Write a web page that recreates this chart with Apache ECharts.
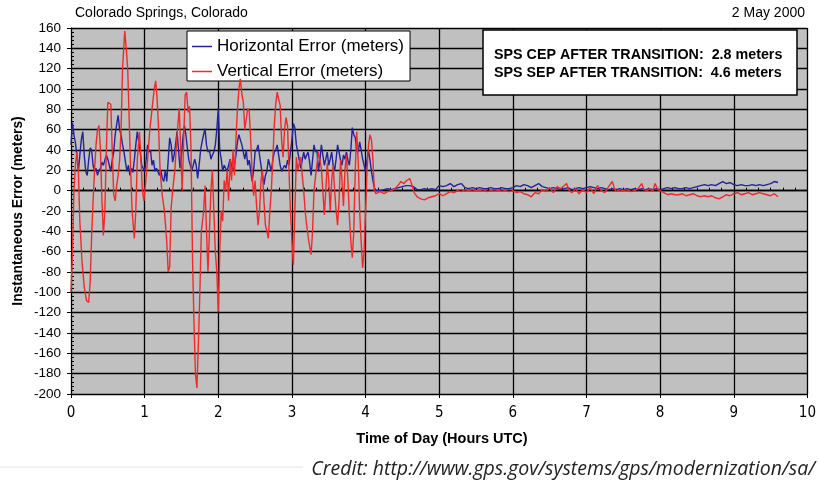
<!DOCTYPE html>
<html>
<head>
<meta charset="utf-8">
<script src="https://cdn.jsdelivr.net/npm/echarts@6/dist/echarts.min.js"></script>
<style>
html,body{margin:0;padding:0;background:#fff;}
#chart{width:819px;height:480px;}
</style>
</head>
<body>
<div id="chart"></div>
<script>
// ---- Data ----
var chartTitle = "Colorado Springs, Colorado";
var chartDate = "2 May 2000";
var seriesNames = ["Horizontal Error (meters)", "Vertical Error (meters)"];
var noteLines = ["SPS CEP AFTER TRANSITION:  2.8 meters", "SPS SEP AFTER TRANSITION:  4.6 meters"];
var xTitle = "Time of Day (Hours UTC)";
var yTitle = "Instantaneous Error (meters)";
var credit = "Credit: http://www.gps.gov/systems/gps/modernization/sa/";
var xTicks = [0,1,2,3,4,5,6,7,8,9,10];
var yTicks = [-200,-180,-160,-140,-120,-100,-80,-60,-40,-20,0,20,40,60,80,100,120,140,160];

var timeH = [0.00,0.02,0.04,0.06,0.08,0.10,0.12,0.14,0.16,0.18,0.20,0.22,0.24,0.26,0.28,0.30,0.32,0.34,0.36,0.38,0.40,0.42,0.44,0.46,0.48,0.50,0.52,0.54,0.56,0.58,0.60,0.62,0.64,0.66,0.68,0.70,0.72,0.74,0.76,0.78,0.80,0.82,0.84,0.86,0.88,0.90,0.92,0.94,0.96,0.98,1.00,1.02,1.04,1.06,1.08,1.10,1.12,1.14,1.16,1.18,1.20,1.22,1.24,1.26,1.28,1.30,1.32,1.34,1.36,1.38,1.40,1.42,1.44,1.46,1.48,1.50,1.52,1.54,1.56,1.58,1.60,1.62,1.64,1.66,1.68,1.70,1.72,1.74,1.76,1.78,1.80,1.82,1.84,1.86,1.88,1.90,1.92,1.94,1.96,1.98,2.00,2.02,2.04,2.06,2.08,2.10,2.12,2.14,2.16,2.18,2.20,2.22,2.24,2.26,2.28,2.30,2.32,2.34,2.36,2.38,2.40,2.42,2.44,2.46,2.48,2.50,2.52,2.54,2.56,2.58,2.60,2.62,2.64,2.66,2.68,2.70,2.72,2.74,2.76,2.78,2.80,2.82,2.84,2.86,2.88,2.90,2.92,2.94,2.96,2.98,3.00,3.02,3.04,3.06,3.08,3.10,3.12,3.14,3.16,3.18,3.20,3.22,3.24,3.26,3.28,3.30,3.32,3.34,3.36,3.38,3.40,3.42,3.44,3.46,3.48,3.50,3.52,3.54,3.56,3.58,3.60,3.62,3.64,3.66,3.68,3.70,3.72,3.74,3.76,3.78,3.80,3.82,3.84,3.86,3.88,3.90,3.92,3.94,3.96,3.98,4.00,4.02,4.04,4.06,4.08,4.10,4.12,4.14,
4.16,4.20,4.25,4.30,4.35,4.40,4.45,4.50,4.55,4.60,4.65,4.70,4.75,4.80,4.85,4.90,4.95,5.00,5.05,5.10,5.15,5.20,5.25,5.30,5.35,5.40,5.45,5.50,5.55,5.60,5.65,5.70,5.75,5.80,5.85,5.90,5.95,6.00,6.05,6.10,6.15,6.20,6.25,6.30,6.35,6.40,6.45,6.50,6.55,6.60,6.65,6.70,6.75,6.80,6.85,6.90,6.95,7.00,7.05,7.10,7.15,7.20,7.25,7.30,7.35,7.40,7.45,7.50,7.55,7.60,7.65,7.70,7.75,7.80,7.85,7.90,7.95,8.00,8.05,8.10,8.15,8.20,8.25,8.30,8.35,8.40,8.45,8.50,8.55,8.60,8.65,8.70,8.75,8.80,8.85,8.90,8.95,9.00,9.05,9.10,9.15,9.20,9.25,9.30,9.35,9.40,9.45,9.50,9.55,9.60];
var horizontalError = [45,67,55,47,34,19,35,50,58,35,19,15,30,42,40,25,19,22,15,20,22,28,25,30,35,31,25,19,30,38,55,65,74,60,55,45,38,28,19,25,15,22,18,30,45,58,48,38,25,22,19,30,45,38,40,25,30,19,22,19,15,20,12,9,20,9,30,52,45,28,35,45,58,40,22,35,52,64,55,42,30,25,20,25,31,25,12,25,40,48,55,61,45,38,40,31,35,38,45,60,81,40,31,19,25,25,19,25,31,25,19,25,35,48,55,50,45,38,31,40,25,30,20,9,20,38,40,45,35,25,15,6,15,19,31,25,19,30,38,40,45,35,25,19,22,25,22,30,25,38,50,66,62,45,38,30,22,30,38,31,35,38,28,15,30,45,38,40,19,30,45,35,25,31,38,25,31,38,25,20,31,45,38,30,25,35,31,38,30,25,40,62,55,52,40,38,48,40,31,25,19,30,40,30,19,10,3,0,
1,0,1,2,1,2,3,4,5,5,4,1,1,2,1,2,1,5,4,5,7,4,6,7,3,2,3,2,3,2,2,3,2,2,3,2,2,3,5,4,6,5,3,5,7,4,3,2,3,2,1,2,3,1,2,3,2,3,4,3,2,3,2,1,2,1,2,1,2,1,2,1,2,1,2,1,2,1,2,3,2,3,2,2,3,2,3,4,5,6,5,6,5,7,9,7,8,6,5,6,5,5,6,5,6,5,6,7,9,8];

var timeV = [0.00,0.02,0.04,0.06,0.08,0.10,0.12,0.15,0.18,0.21,0.24,0.26,0.28,0.30,0.32,0.34,0.36,0.38,0.40,0.42,0.44,0.46,0.48,0.50,0.52,0.54,0.56,0.58,0.60,0.62,0.64,0.66,0.68,0.70,0.72,0.73,0.75,0.77,0.79,0.81,0.83,0.86,0.88,0.90,0.93,0.95,0.97,0.99,1.01,1.04,1.07,1.10,1.13,1.15,1.17,1.19,1.21,1.24,1.27,1.30,1.32,1.34,1.36,1.38,1.41,1.44,1.47,1.49,1.51,1.53,1.55,1.57,1.59,1.61,1.63,1.65,1.67,1.69,1.71,1.73,1.75,1.77,1.80,1.82,1.84,1.86,1.88,1.90,1.92,1.94,1.96,1.98,2.00,2.02,2.04,2.06,2.08,2.10,2.12,2.14,2.16,2.18,2.20,2.22,2.24,2.26,2.28,2.30,2.32,2.34,2.36,2.38,2.40,2.42,2.44,2.46,2.48,2.50,2.52,2.54,2.56,2.58,2.60,2.62,2.64,2.66,2.68,2.70,2.72,2.74,2.76,2.78,2.80,2.82,2.84,2.86,2.88,2.90,2.92,2.94,2.96,2.98,3.00,3.02,3.04,3.06,3.08,3.10,3.12,3.14,3.16,3.18,3.20,3.23,3.26,3.28,3.30,3.33,3.36,3.38,3.40,3.42,3.44,3.46,3.48,3.50,3.52,3.54,3.56,3.58,3.60,3.62,3.64,3.66,3.68,3.70,3.72,3.74,3.76,3.78,3.80,3.82,3.84,3.86,3.88,3.90,3.92,3.94,3.96,3.98,4.00,4.02,4.04,4.06,4.08,4.10,4.12,4.14,
4.16,4.20,4.25,4.30,4.35,4.40,4.45,4.48,4.52,4.56,4.60,4.62,4.66,4.70,4.75,4.80,4.85,4.90,4.95,5.00,5.05,5.10,5.15,5.20,5.25,5.30,5.35,5.40,5.45,5.50,5.55,5.60,5.65,5.70,5.75,5.80,5.85,5.90,5.95,6.00,6.05,6.10,6.15,6.20,6.25,6.30,6.35,6.40,6.45,6.50,6.55,6.60,6.65,6.70,6.73,6.76,6.80,6.85,6.90,6.95,7.00,7.05,7.10,7.15,7.20,7.25,7.30,7.35,7.38,7.40,7.45,7.50,7.55,7.60,7.65,7.70,7.75,7.78,7.82,7.86,7.90,7.93,7.97,8.00,8.05,8.10,8.15,8.20,8.25,8.30,8.35,8.40,8.45,8.50,8.55,8.60,8.65,8.70,8.75,8.80,8.85,8.90,8.95,9.00,9.05,9.10,9.15,9.20,9.25,9.30,9.35,9.40,9.45,9.50,9.55,9.60];
var verticalError = [-100,-60,0,25,38,20,-30,-70,-95,-108,-110,-90,-45,-10,20,45,60,64,40,-10,-44,-20,40,87,88,85,40,-4,-10,5,15,30,60,120,145,157,140,120,70,20,-20,-47,-20,30,58,30,0,-10,5,30,60,80,100,108,90,60,20,-5,-21,-50,-80,-75,-17,0,20,55,81,40,0,50,94,97,77,83,40,-66,-130,-180,-194,-150,-100,-40,-21,5,-40,-80,-40,0,20,-20,-60,-80,-119,-60,-20,-30,10,0,20,-10,30,10,40,15,50,80,100,110,95,87,60,70,81,78,50,15,-5,10,-15,-34,-20,10,20,-10,-34,-40,-47,-20,0,30,64,85,97,90,84,50,33,60,72,64,20,-21,-50,-73,-20,33,20,27,33,15,0,-20,-34,-50,-63,-40,0,20,38,30,22,0,-24,0,27,10,-20,10,25,0,-20,-34,-10,30,10,-15,20,35,10,-25,-50,-66,-40,20,58,30,-20,-50,-76,-60,-20,20,45,55,50,30,0,-3,
-2,-1,-3,-1,0,2,6,9,7,10,12,8,-2,-6,-8,-9,-7,-6,-5,-3,-5,-3,-1,-2,0,-1,1,0,1,0,0,1,-1,0,1,0,1,0,-1,0,-2,-1,-3,-4,-6,-2,-3,1,-1,3,-2,4,2,5,7,1,-2,2,-3,1,-2,3,-3,5,0,-2,4,9,2,-1,1,0,1,-1,0,2,7,1,0,2,-1,7,1,0,-2,-4,-3,-4,-4,-3,-5,-4,-3,-5,-6,-5,-6,-5,-7,-8,-6,-4,-5,-3,-2,-4,-3,-2,-4,-3,-2,-3,-4,-5,-3,-6];

// ---- Build ----
function pairs(xs, ys){ var out=[]; for(var i=0;i<xs.length;i++){ out.push([xs[i], ys[i]]); } return out; }

var FONT = "'Liberation Sans', Arial, sans-serif";
var NARROW = "'Liberation Sans Narrow', 'DejaVu Sans Condensed', 'Liberation Sans', sans-serif";
var chart = echarts.init(document.getElementById('chart'), null, {renderer:'canvas'});

var option = {
  animation: false,
  backgroundColor: '#ffffff',
  grid: { left: 71, right: 7, top: 28, bottom: 86, show: true, backgroundColor: '#c0c0c0', borderWidth: 0 },
  xAxis: [
    { type: 'value', min: xTicks[0], max: xTicks[xTicks.length-1], interval: 1,
      axisLine: { onZero: false, lineStyle: { color: '#000', width: 1 } },
      axisTick: { show: true, length: 4, lineStyle: { color: '#000' } },
      axisLabel: { color: '#000', fontFamily: NARROW, fontSize: 15, margin: 12 },
      splitLine: { show: true, lineStyle: { color: '#000', width: 1.3 } } },
    { type: 'value', min: xTicks[0], max: xTicks[xTicks.length-1], interval: 1, position: 'bottom',
      axisLine: { show: true, onZero: true, lineStyle: { color: '#000', width: 1.3 } },
      axisTick: { show: true, length: 3, inside: true, lineStyle: { color: '#000' } },
      minorTick: { show: true, splitNumber: 6, length: 3, lineStyle: { color: '#000' } },
      axisLabel: { show: false }, splitLine: { show: false } }
  ],
  yAxis: [
    { type: 'value', min: yTicks[0], max: yTicks[yTicks.length-1], interval: 20,
      axisLine: { show: true, onZero: false, lineStyle: { color: '#000' } },
      axisTick: { show: true, length: 4, lineStyle: { color: '#000' } },
      axisLabel: { color: '#000', fontFamily: FONT, fontSize: 13.5, margin: 10 },
      splitLine: { show: true, lineStyle: { color: '#000', width: 1.3 } } },
    { type: 'value', min: yTicks[0], max: yTicks[yTicks.length-1], interval: 20, position: 'left',
      axisLine: { show: false }, axisTick: { show: false, inside: true },
      minorTick: { show: true, splitNumber: 5, length: 3, lineStyle: { color: '#000' } },
      axisLabel: { show: false }, splitLine: { show: false } }
  ],
  legend: {
    left: 187, top: 31, orient: 'vertical', padding: [7, 6, 1, 5], itemGap: 8,
    itemWidth: 20, itemHeight: 12, backgroundColor: '#ffffff', borderColor: '#000', borderWidth: 1,
    textStyle: { fontFamily: FONT, fontSize: 17, color: '#000' },
    data: [{ name: seriesNames[0], icon: 'path://M0,5 L20,5 L20,6.5 L0,6.5 Z' }, { name: seriesNames[1], icon: 'path://M0,5 L20,5 L20,6.5 L0,6.5 Z' }]
  },
  series: [
    { name: seriesNames[0], type: 'line', xAxisIndex: 0, yAxisIndex: 0, data: pairs(timeH, horizontalError),
      symbol: 'none', lineStyle: { color: '#22229a', width: 1.4 }, itemStyle: { color: '#22229a' }, z: 3 },
    { name: seriesNames[1], type: 'line', xAxisIndex: 0, yAxisIndex: 0, data: pairs(timeV, verticalError),
      symbol: 'none', lineStyle: { color: '#f02a2a', width: 1.4 }, itemStyle: { color: '#f02a2a' }, z: 4 }
  ],
  graphic: [
    { type: 'text', x: 75, y: 13, style: { text: chartTitle, font: '14px ' + FONT, fill: '#000', textVerticalAlign: 'middle' } },
    { type: 'text', x: 805, y: 13, style: { text: chartDate, font: '14px ' + FONT, fill: '#000', textAlign: 'right', textVerticalAlign: 'middle' } },
    { type: 'rect', shape: { x: 483, y: 30, width: 314, height: 65 }, style: { fill: '#fff', stroke: '#000', lineWidth: 1.5 }, z: 100 },
    { type: 'text', x: 494, y: 55, style: { text: noteLines[0], font: 'bold 14.3px ' + FONT, fill: '#000', textVerticalAlign: 'middle' }, z: 101 },
    { type: 'text', x: 494, y: 73, style: { text: noteLines[1], font: 'bold 14.3px ' + FONT, fill: '#000', textVerticalAlign: 'middle' }, z: 101 },
    { type: 'text', x: 18, y: 211, rotation: Math.PI/2, style: { text: yTitle, font: 'bold 13.8px ' + FONT, fill: '#000', textAlign: 'center', textVerticalAlign: 'middle' } },
    { type: 'text', x: 442, y: 439, style: { text: xTitle, font: 'bold 14.5px ' + FONT, fill: '#000', textAlign: 'center', textVerticalAlign: 'middle' } },
    { type: 'line', shape: { x1: 0, y1: 467, x2: 303, y2: 467 }, style: { stroke: '#e4e4e4', lineWidth: 1 } },
    { type: 'text', x: 815, y: 469, style: { text: credit, font: 'italic 19.5px "Open Sans", sans-serif', fill: '#222', textAlign: 'right', textVerticalAlign: 'middle' } }
  ]
};
chart.setOption(option);
</script>
</body>
</html>
